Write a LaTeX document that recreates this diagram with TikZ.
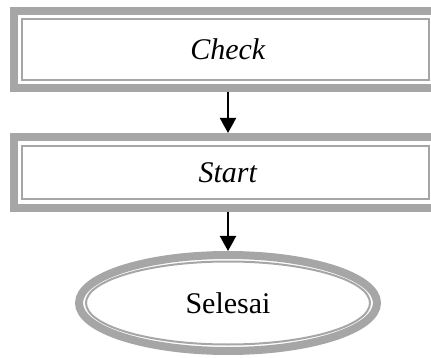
\documentclass[tikz,border=0pt]{standalone}
\usepackage{fontspec}
\setmainfont{Liberation Serif}
\usetikzlibrary{arrows.meta,shapes.geometric,calc}
\definecolor{band}{RGB}{166,166,166}
\tikzset{
  framebox/.style={draw=band, line width=8pt, outer sep=4pt, inner sep=0pt, rectangle},
  thinline/.style={draw=band, line width=2pt},
  txt/.style={font=\fontsize{30}{34}\selectfont, inner sep=0pt},
  arr/.style={draw=black, line width=2pt, -{Triangle[length=15pt,width=16pt]}},
  endoval/.style={ellipse, draw=band, line width=8pt, outer sep=4pt, inner sep=0pt}
}
\begin{document}
\begin{tikzpicture}[x=1pt,y=-1pt]
\useasboundingbox (0,0) rectangle (431,358);
\clip (0,0) rectangle (431,358);
% box 1
\node[framebox, minimum width=423pt, minimum height=77pt] (box1) at (225.5,49.5) {};
\draw[thinline] ($(box1.center)+(-203.5,-30.5)$) rectangle ($(box1.center)+(203.5,31)$);
\node[txt] (t1) at (228,49.5) {\textit{Check}};
% box 2
\node[framebox, minimum width=423pt, minimum height=71pt] (box2) at (225.5,172.5) {};
\draw[thinline] ($(box2.center)+(-203.5,-26.5)$) rectangle ($(box2.center)+(203.5,27)$);
\node[txt] (t2) at (228,172.5) {\textit{Start}};
% ellipse
\node[endoval, minimum width=298pt, minimum height=96pt, txt] (sel) at (228,303) {Selesai};
\draw[thinline] (sel.center) ellipse [x radius=142, y radius=41.5];
% arrows
\draw[arr] (t1 |- box1.south) -- (t1 |- box2.north);
\draw[arr] (t2 |- box2.south) -- (sel.north);
\end{tikzpicture}
\end{document}
